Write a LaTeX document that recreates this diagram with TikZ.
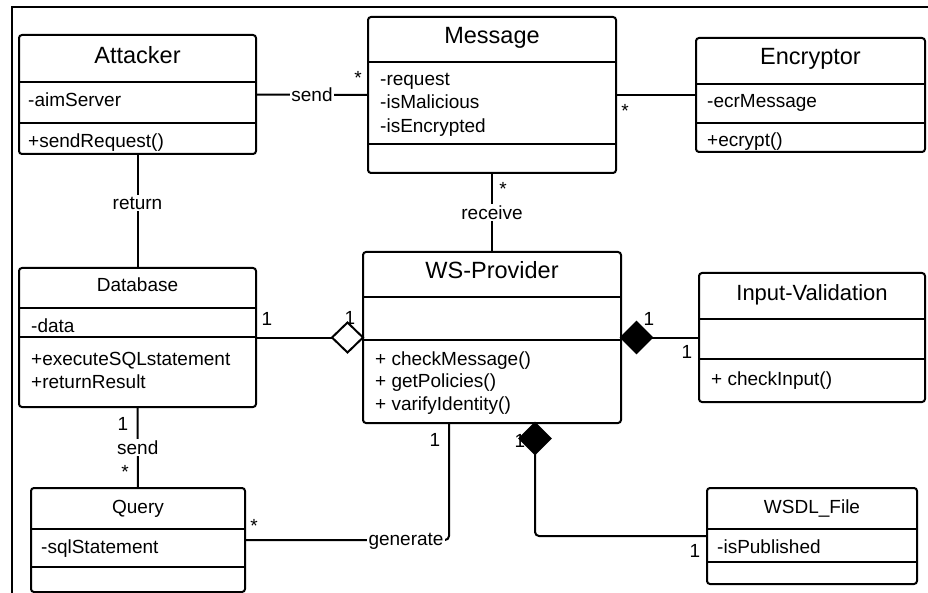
\documentclass[tikz,border=0pt]{standalone}
\usepackage{fontspec}
\setmainfont{Liberation Sans}
\usetikzlibrary{shapes.geometric}
\begin{document}
\begin{tikzpicture}[x=1pt,y=-1pt,
  cls/.style={draw, line width=2pt, rounded corners=3pt, inner sep=0pt, outer sep=0pt, anchor=north west},
  sep/.style={line width=2pt},
  conn/.style={line width=2pt},
  big/.style={font=\fontsize{23.5}{28}\selectfont, inner sep=0pt, anchor=base},
  mid/.style={font=\fontsize{19}{23}\selectfont, inner sep=0pt, anchor=base},
  attr/.style={font=\fontsize{19}{23}\selectfont, inner sep=0pt, anchor=base west},
  lbl/.style={font=\fontsize{19}{23}\selectfont, inner sep=1.5pt, fill=white},
  mult/.style={font=\fontsize{19}{23}\selectfont, inner sep=0pt, anchor=base},
  star/.style={font=\fontsize{19}{23}\selectfont, inner sep=0pt, anchor=base},
  aggr/.style={diamond, draw, line width=2pt, fill=white, inner sep=0pt, outer sep=0pt, minimum width=31pt, minimum height=30pt},
  comp/.style={diamond, draw, line width=2pt, fill=black, inner sep=0pt, outer sep=0pt, minimum width=31pt, minimum height=31pt},
]
\useasboundingbox (0,0) rectangle (928,593);
% frame
\draw[line width=1.5pt] (12,593) -- (12,7) -- (928,7);

% Attacker
\node[cls, minimum width=237pt, minimum height=119pt] (att) at (19,35) {};
\draw[sep] (19,82) -- (256,82);
\draw[sep] (19,123) -- (256,123);
\node[big] (attT) at (137.5,64) {Attacker};
\node[attr] (attA) at (28,107) {-aimServer};
\node[attr] (attM) at (28,148) {+sendRequest()};

% Message
\node[cls, minimum width=248pt, minimum height=156pt] (msg) at (368,17) {};
\draw[sep] (368,62) -- (616,62);
\draw[sep] (368,144) -- (616,144);
\node[big] (msgT) at (492,44) {Message};
\node[attr] (msgA1) at (380,86) {-request};
\node[attr] (msgA2) at (380,109) {-isMalicious};
\node[attr] (msgA3) at (380,133) {-isEncrypted};

% Encryptor
\node[cls, minimum width=229pt, minimum height=114pt] (enc) at (696,38) {};
\draw[sep] (696,84) -- (925,84);
\draw[sep] (696,123) -- (925,123);
\node[big] (encT) at (810.5,65) {Encryptor};
\node[attr] (encA) at (707,108) {-ecrMessage};
\node[attr] (encM) at (707,147) {+ecrypt()};

% Database
\node[cls, minimum width=237pt, minimum height=139pt] (db) at (19,268) {};
\draw[sep] (19,308) -- (256,308);
\draw[sep] (19,337) -- (256,337);
\node[mid] (dbT) at (137.5,292) {Database};
\node[attr] (dbA) at (31,332) {-data};
\node[attr] (dbM1) at (31,365) {+executeSQLstatement};
\node[attr] (dbM2) at (31,388) {+returnResult};

% WS-Provider
\node[cls, minimum width=258pt, minimum height=171pt] (wsp) at (363,252) {};
\draw[sep] (363,297) -- (621,297);
\draw[sep] (363,340) -- (621,340);
\node[big] (wspT) at (492,279) {WS-Provider};
\node[attr] (wspM1) at (375,365) {+ checkMessage()};
\node[attr] (wspM2) at (375,387) {+ getPolicies()};
\node[attr] (wspM3) at (375,410) {+ varifyIdentity()};

% Input-Validation
\node[cls, minimum width=226pt, minimum height=129pt] (iv) at (699,273) {};
\draw[sep] (699,319) -- (925,319);
\draw[sep] (699,359) -- (925,359);
\node[big, font=\fontsize{22}{26}\selectfont] (ivT) at (812,301) {Input-Validation};
\node[attr] (ivM) at (711,385) {+ checkInput()};

% Query
\node[cls, minimum width=214pt, minimum height=104pt] (qry) at (31,488) {};
\draw[sep] (31,529) -- (245,529);
\draw[sep] (31,567) -- (245,567);
\node[mid] (qryT) at (138,513) {Query};
\node[attr] (qryA) at (41,553) {-sqlStatement};

% WSDL_File
\node[cls, minimum width=210pt, minimum height=96pt] (wsdl) at (707,488) {};
\draw[sep] (707,529) -- (917,529);
\draw[sep] (707,562) -- (917,562);
\node[mid] (wsdlT) at (812,513) {WSDL\_File};
\node[attr] (wsdlA) at (717,553) {-isPublished};

% Attacker -- Message
\draw[conn] (att.east) -- node[lbl] (l1) {send} (msg.west);
\node[star] (s1) at (358,85) {*};
% Message -- Encryptor
\draw[conn] (msg.east) -- (enc.west);
\node[star] (s2) at (625,118) {*};
% Message -- WS-Provider
\draw[conn] (msg.south) -- node[lbl] (l2) {receive} (wsp.north);
\node[star] (s3) at (503,196) {*};
% Attacker -- Database
\draw[conn] (att.south) -- node[lbl, pos=0.43] (l3) {return} (db.north);
% Database -- Query
\draw[conn] (db.south) -- node[lbl] (l4) {send} (qry.north);
\node[mult] (m1) at (123,430) {1};
\node[star] (s4) at (125,478) {*};

% Database -- WS-Provider aggregation
\node[aggr, anchor=east] (agd) at (wsp.west) {};
\draw[conn] (db.east) -- (agd.west);
\node[mult] (m2) at (267,326) {1};
\node[mult] (m3) at (350,324) {1};

% WS-Provider -- Input-Validation composition
\node[comp, anchor=west] (cd1) at (wsp.east) {};
\draw[conn] (cd1.east) -- (iv.west);
\node[mult] (m4) at (649,325) {1};
\node[mult] (m5) at (687,358) {1};

% WS-Provider -- WSDL_File composition
\node[mult] (m6) at (520,447) {1};
\node[comp, anchor=north] (cd2) at (535,423) {};
\draw[conn, rounded corners=4pt] (cd2.south) |- (wsdl.west);
\node[mult] (m7) at (695,557) {1};

% Query -- WS-Provider generate
\draw[conn, rounded corners=4pt] (qry.east) -| (wsp.south -| 449,0);
\node[lbl] (l5) at (406,541) {generate};
\node[star] (s5) at (254,532) {*};
\node[mult] (m8) at (435,446) {1};
\end{tikzpicture}
\end{document}
